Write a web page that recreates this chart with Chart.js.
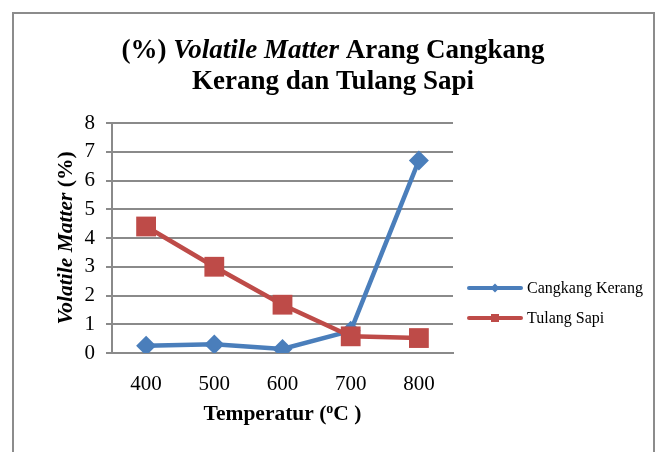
<!DOCTYPE html>
<html>
<head>
<meta charset="utf-8">
<script src="https://cdn.jsdelivr.net/npm/chart.js@4/dist/chart.umd.min.js"></script>
<style>
  html, body { margin: 0; padding: 0; background: #fff; }
  #wrap { width: 656px; height: 452px; }
</style>
</head>
<body>
<div id="wrap"><canvas id="vmChart" width="656" height="452"></canvas></div>
<script>
// ── data ──
const temperatures = ['400', '500', '600', '700', '800'];
const cangkangKerang = [0.25, 0.3, 0.14, 0.77, 6.7];
const tulangSapi = [4.4, 3.0, 1.68, 0.58, 0.52];
const yMin = 0;
const yMax = 8;
const yStep = 1;

const seriesNames = ['Cangkang Kerang', 'Tulang Sapi'];
const BLUE = '#4a7ebb';
const RED = '#be4b48';
const GRID = '#8a8a8a';
const SERIF = '"Liberation Serif", "Times New Roman", serif';

// gambar teks dengan gaya campuran (bold / italic) dalam satu baris
function drawRuns(ctx, runs, cx, y) {
    let total = 0;
    runs.forEach(r => {
        ctx.font = r.font;
        total += ctx.measureText(r.text).width;
    });
    let x = cx - total / 2;
    ctx.textAlign = 'left';
    runs.forEach(r => {
        ctx.font = r.font;
        ctx.fillText(r.text, x, y + (r.dy || 0));
        x += ctx.measureText(r.text).width;
    });
}

function drawMarker(ctx, style, x, y, r, color) {
    ctx.fillStyle = color;
    ctx.beginPath();
    if (style === 'rectRot') {
        ctx.moveTo(x - r, y);
        ctx.lineTo(x, y - r);
        ctx.lineTo(x + r, y);
        ctx.lineTo(x, y + r);
        ctx.closePath();
    } else {
        ctx.rect(x - r, y - r, 2 * r, 2 * r);
    }
    ctx.fill();
}

const decorPlugin = {
    id: 'decor',
    beforeDraw(chart) {
        const ctx = chart.ctx;
        ctx.save();
        ctx.fillStyle = '#fff';
        ctx.fillRect(0, 0, chart.width, chart.height);
        // bingkai chart
        ctx.strokeStyle = '#8c8c8c';
        ctx.lineWidth = 2;
        ctx.strokeRect(13, 13, 641, 460);
        ctx.restore();
    },
    afterDraw(chart) {
        const ctx = chart.ctx;
        const area = chart.chartArea;
        ctx.save();
        ctx.fillStyle = '#000';
        ctx.textBaseline = 'alphabetic';

        // judul
        const tb = 'bold 27px ' + SERIF;
        const tbi = 'italic bold 27px ' + SERIF;
        drawRuns(ctx, [
            { text: '(%) ', font: tb },
            { text: 'Volatile Matter', font: tbi },
            { text: ' Arang Cangkang', font: tb }
        ], 333, 58);
        drawRuns(ctx, [{ text: 'Kerang dan Tulang Sapi', font: tb }], 333, 89);

        // judul sumbu Y
        ctx.save();
        ctx.translate(72, (area.top + area.bottom) / 2);
        ctx.rotate(-Math.PI / 2);
        drawRuns(ctx, [
            { text: 'Volatile Matter', font: 'italic bold 21.5px ' + SERIF },
            { text: ' (%)', font: 'bold 21.5px ' + SERIF }
        ], 0, 0);
        ctx.restore();

        // judul sumbu X
        drawRuns(ctx, [
            { text: 'Temperatur (', font: 'bold 21.5px ' + SERIF },
            { text: 'o', font: 'bold 14px ' + SERIF, dy: -7 },
            { text: 'C )', font: 'bold 21.5px ' + SERIF }
        ], (area.left + area.right) / 2, 420);

        // legenda
        const legendY = [288, 318];
        chart.data.datasets.forEach((ds, i) => {
            const y = legendY[i];
            ctx.strokeStyle = ds.borderColor;
            ctx.lineWidth = 4;
            ctx.lineCap = 'round';
            ctx.beginPath();
            ctx.moveTo(469, y);
            ctx.lineTo(521, y);
            ctx.stroke();
            drawMarker(ctx, ds.pointStyle, 495, y, ds.pointStyle === 'rect' ? 4 : 4.5, ds.borderColor);
            ctx.fillStyle = '#000';
            ctx.font = '16px ' + SERIF;
            ctx.textAlign = 'left';
            ctx.textBaseline = 'middle';
            ctx.fillText(ds.label, 527, y + 1);
            ctx.textBaseline = 'alphabetic';
        });
        ctx.restore();
    }
};

new Chart(document.getElementById('vmChart'), {
    type: 'line',
    data: {
        labels: temperatures,
        datasets: [
            {
                label: seriesNames[0],
                data: cangkangKerang,
                borderColor: BLUE,
                backgroundColor: BLUE,
                borderWidth: 4.5,
                pointStyle: 'rectRot',
                pointRadius: 10,
                pointBorderWidth: 0,
                tension: 0,
                order: 1
            },
            {
                label: seriesNames[1],
                data: tulangSapi,
                borderColor: RED,
                backgroundColor: RED,
                borderWidth: 4.5,
                pointStyle: 'rect',
                pointRadius: 14,
                pointBorderWidth: 0,
                tension: 0,
                order: 0
            }
        ]
    },
    options: {
        responsive: false,
        animation: false,
        layout: { padding: { left: 0, right: 203, top: 123, bottom: 0 } },
        plugins: {
            legend: { display: false },
            title: { display: false },
            tooltip: { enabled: false }
        },
        scales: {
            x: {
                offset: true,
                grid: { display: false, drawTicks: false },
                border: { display: true, color: GRID, width: 2 },
                ticks: {
                    color: '#000',
                    padding: 19,
                    font: { family: SERIF, size: 21 }
                },
                afterFit(scale) { scale.height = 99; }
            },
            y: {
                min: yMin,
                max: yMax,
                ticks: {
                    stepSize: yStep,
                    color: '#000',
                    padding: 11,
                    font: { family: SERIF, size: 21 }
                },
                grid: { color: GRID, lineWidth: 2, tickLength: 6 },
                border: { display: true, color: GRID, width: 2 },
                afterFit(scale) { scale.width = 112; }
            }
        }
    },
    plugins: [decorPlugin]
});
</script>
</body>
</html>
